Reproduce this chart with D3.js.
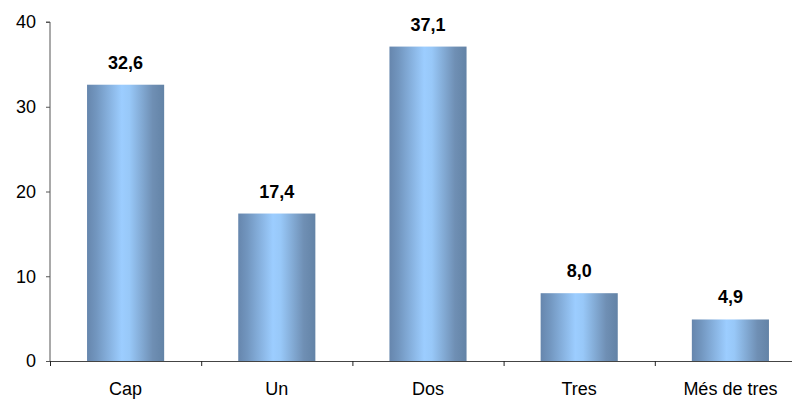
<!DOCTYPE html>
<html><head><meta charset="utf-8">
<script src="https://cdn.jsdelivr.net/npm/d3@7"></script>
<style>body{margin:0;background:#fff;} svg{display:block;font-family:"Liberation Sans",Arial,sans-serif;}</style>
</head><body>
<svg id="c" width="792" height="401"></svg>
<script>
const categories = ["Cap", "Un", "Dos", "Tres", "Més de tres"];
const values = [32.6, 17.4, 37.1, 8.0, 4.9];
const yTicks = [0, 10, 20, 30, 40];

const svg = d3.select("#c");
const x0 = 50, x1 = 806, yBase = 361, yTop = 22;
const x = d3.scaleBand().domain(categories).range([x0, x1]).paddingInner(0.49).paddingOuter(0.245);
const y = d3.scaleLinear().domain([0, 40]).range([yBase, yTop]);

const defs = svg.append("defs");
const g = defs.append("linearGradient").attr("id", "bg").attr("x1", "0%").attr("x2", "100%").attr("y1", "0%").attr("y2", "0%");
[[0, "#6686ad"], [0.12, "#7296bf"], [0.45, "#9ccdff"], [0.55, "#98c8f8"], [0.85, "#6f8fb4"], [1, "#6383a6"]]
  .forEach(([o, c]) => g.append("stop").attr("offset", o).attr("stop-color", c));

// bars
svg.selectAll("rect.bar").data(values).join("rect").attr("class", "bar")
  .attr("x", (d, i) => x(categories[i]))
  .attr("width", x.bandwidth())
  .attr("y", d => y(d))
  .attr("height", d => yBase - y(d))
  .attr("fill", "url(#bg)");

// value labels
svg.selectAll("text.val").data(values).join("text").attr("class", "val")
  .attr("x", (d, i) => x(categories[i]) + x.bandwidth() / 2)
  .attr("y", d => y(d) - 16)
  .attr("text-anchor", "middle")
  .attr("font-size", 18).attr("font-weight", "bold").attr("fill", "#000")
  .text(d => d3.format(".1f")(d).replace(".", ","));

// y axis
const ya = svg.append("g").attr("transform", `translate(${x0},0)`)
  .call(d3.axisLeft(y).tickValues(yTicks).tickSize(4).tickPadding(10).tickFormat(d3.format("d")));
ya.select(".domain").attr("stroke", "#555").attr("d", `M-4,${yTop}H0V${yBase}`);
ya.selectAll(".tick line").attr("stroke", "#555");
ya.selectAll("text").attr("font-size", 18).attr("fill", "#000").attr("font-family", "Liberation Sans, Arial, sans-serif");

// x axis
const step = x.step();
const bounds = d3.range(categories.length + 1).map(i => x0 + i * step);
const xa = svg.append("g");
xa.append("line").attr("x1", x0).attr("x2", x1).attr("y1", yBase + 0.5).attr("y2", yBase + 0.5).attr("stroke", "#444");
xa.selectAll("line.t").data(bounds).join("line").attr("class", "t")
  .attr("x1", d => d + 0.5).attr("x2", d => d + 0.5).attr("y1", yBase).attr("y2", yBase + 5).attr("stroke", "#222");
xa.selectAll("text").data(categories).join("text")
  .attr("x", d => x(d) + x.bandwidth() / 2).attr("y", yBase + 34)
  .attr("text-anchor", "middle").attr("font-size", 18).attr("fill", "#000").text(d => d);
</script>
</body></html>
